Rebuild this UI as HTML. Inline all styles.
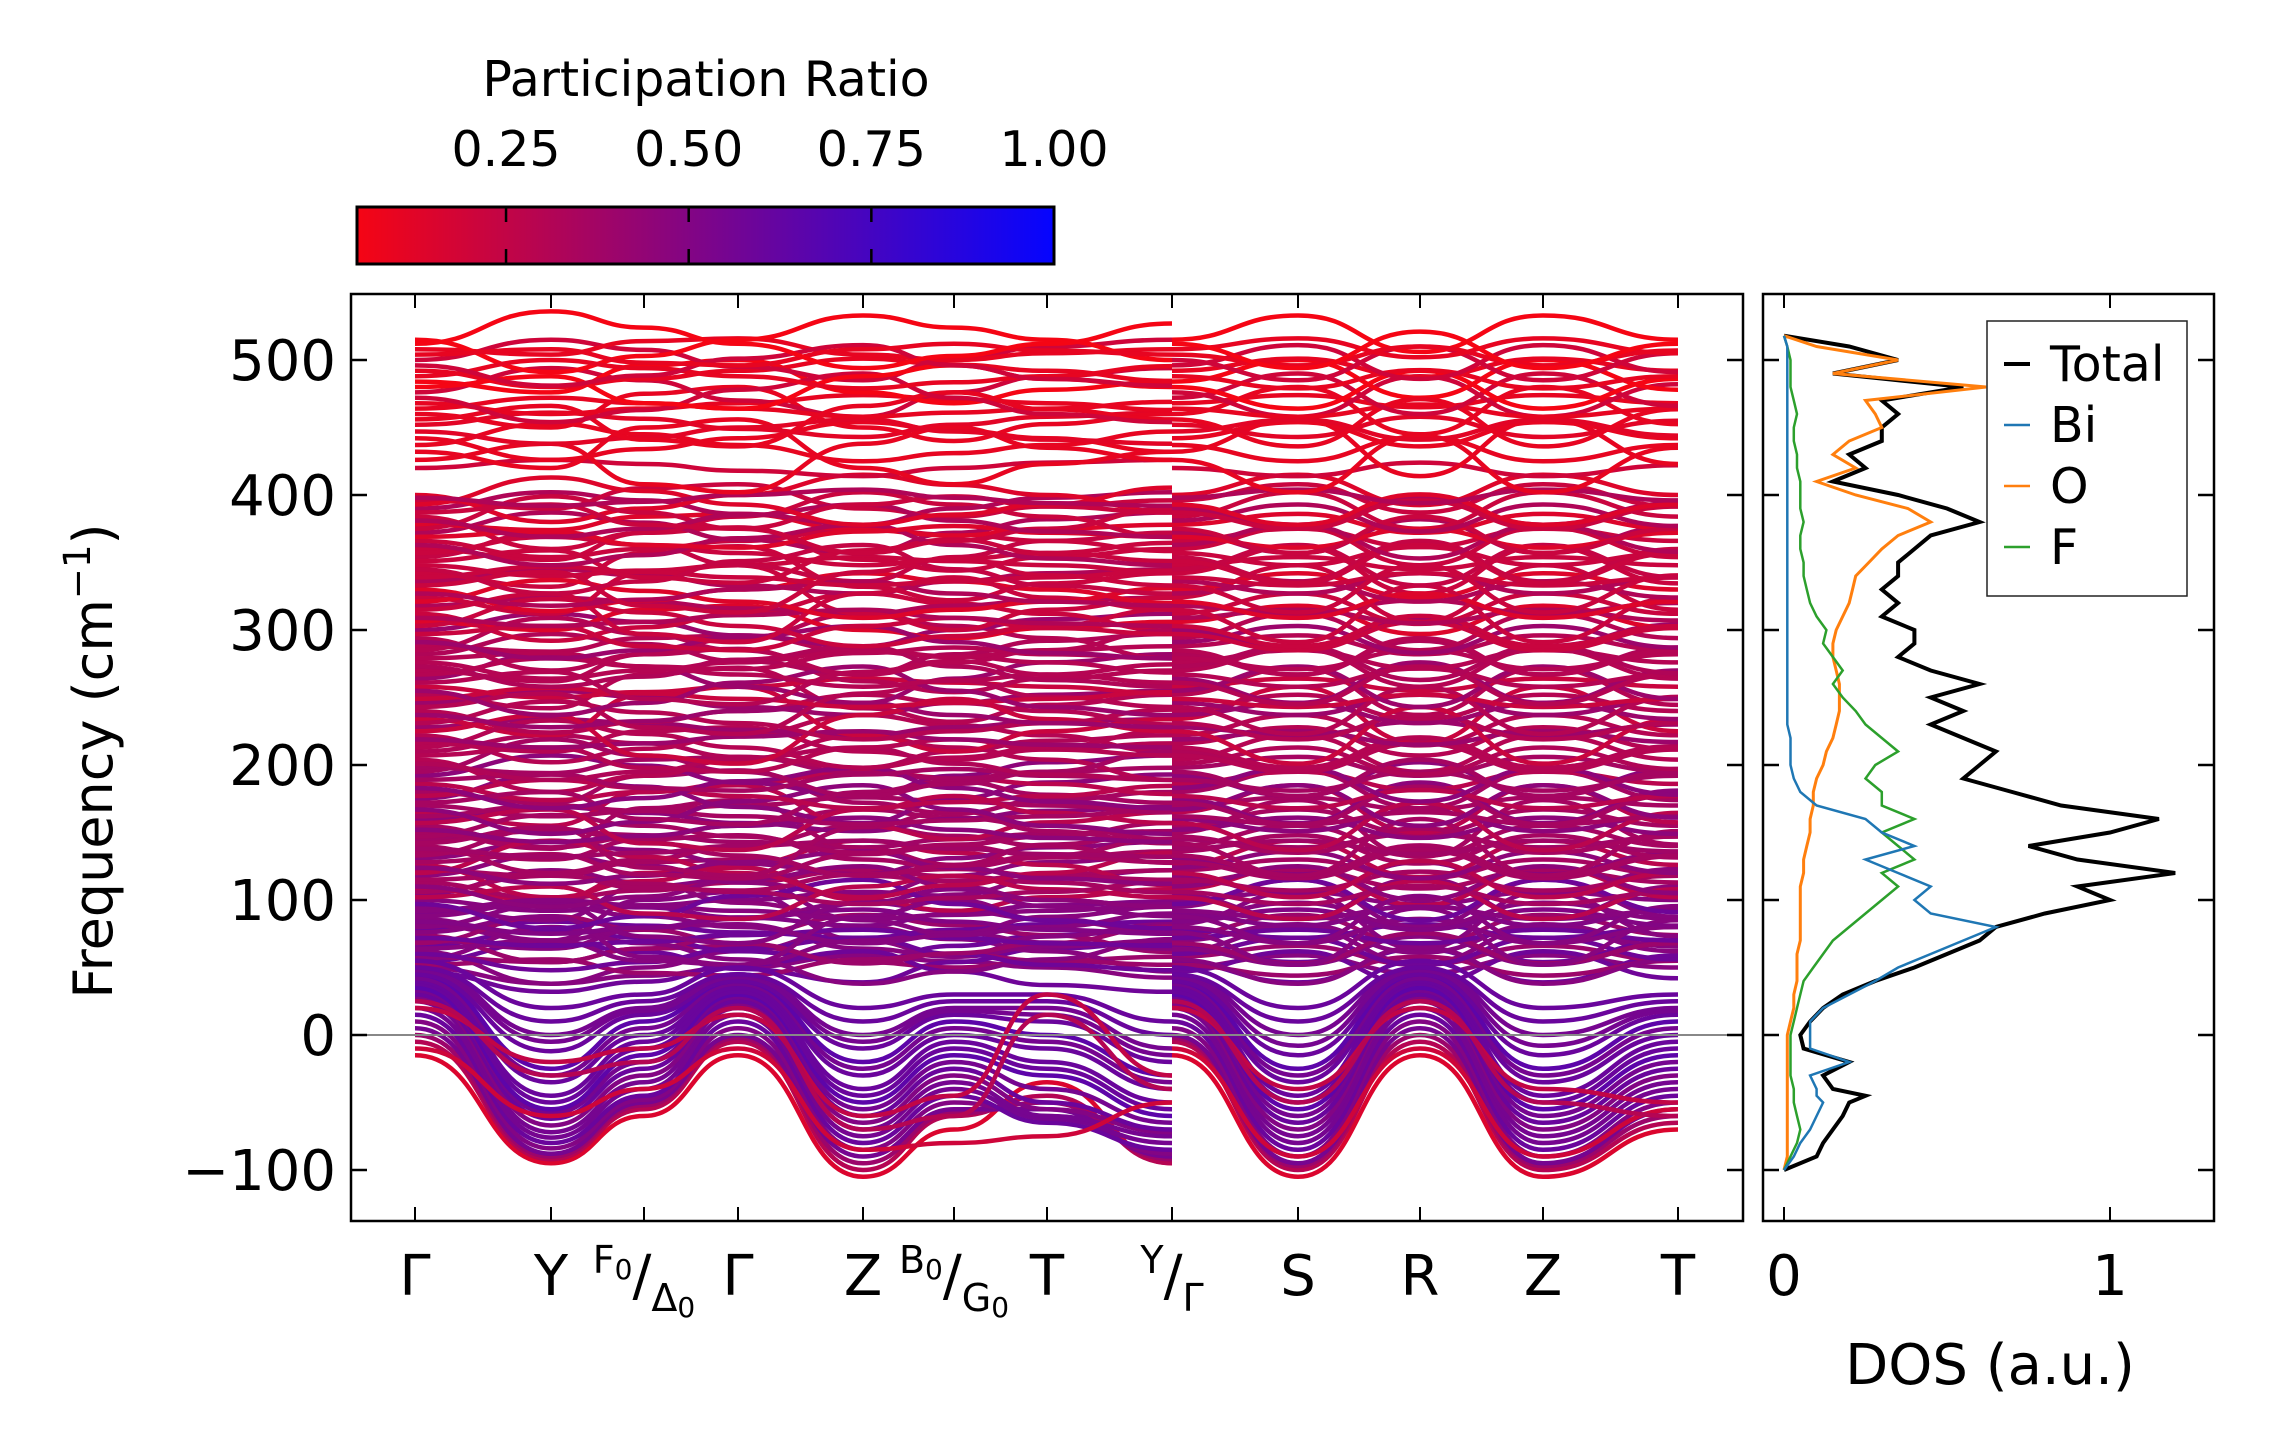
<!DOCTYPE html>
<html><head><meta charset="utf-8"><style>
html,body{margin:0;padding:0;background:#fff;}
svg{display:block;font-family:"DejaVu Sans","Liberation Sans",sans-serif;}
</style></head><body>
<svg id="fig" width="2271" height="1455" viewBox="0 0 2271 1455" xmlns="http://www.w3.org/2000/svg">
<defs>
<linearGradient id="cbgrad" x1="0" x2="1" y1="0" y2="0">
<stop offset="0" stop-color="rgb(245,5,20)"/><stop offset="1" stop-color="rgb(5,5,255)"/>
</linearGradient>
<clipPath id="mainclip"><rect x="351" y="294" width="1392" height="927"/></clipPath>
<clipPath id="dosclip"><rect x="1763" y="294" width="451" height="927"/></clipPath>
</defs>
<g id="colorbar">
<text x="706" y="96" font-size="49" text-anchor="middle">Participation Ratio</text>
<rect x="357" y="207" width="697" height="57" fill="url(#cbgrad)" stroke="#000" stroke-width="3"/>
</g>
<g id="bands" clip-path="url(#mainclip)"></g>
<g id="main-axes"></g>
<g id="dos"></g>
</svg>
<script>
const NS='http://www.w3.org/2000/svg';
const svg=document.getElementById('fig');
// ---- data ----
const kLabels=['Γ','Y','F0/Δ0','Γ','Z','B0/G0','T','Y/Γ','S','R','Z','T'];
const kPosIdx=[0,1,2,3,4,5,6,7,7,8,9,10,11];
const yTicks=[-100,0,100,200,300,400,500];
const cbTicks=[0.25,0.5,0.75,1.0];
const dosTicks=[0,1];
const upperBase=[50,54,58,62,66,70,74,78,82,86,90,95,100,104,108,113,118,122,126,131,136,140,145,150,155,160,165,170,175,180,186,192,198,204,210,216,222,228,234,240,246,252,258,264,270,276,282,288,294,300,306,312,318,324,330,336,342,348,354,360,366,372,378,384,390,396,400,420,432,442,452,460,468,476,484,492,500,508,515];
const upperBase2=[47,52,56,60,64,68,72,76,80,84,88,92,97,102,106,110,115,120,124,128,133,138,142,147,152,157,162,167,172,177,183,189,195,201,207,213,219,225,231,237,243,249,255,261,267,273,279,285,291,297,303,309,315,321,327,333,339,345,351,357,363,369,375,381,387,393,398,426,437,447,456,464,472,480,488,496,504,512];
const wiggleA=[0,-8,-4,0,6,3,0,-5,0,6,-3,6,0];
const wiggleB=[0,6,3,-2,-6,0,4,6,0,-6,4,-6,2];
const wiggleC=[0,-4,6,8,-4,-8,-3,0,0,8,-6,8,-3];
const ampSeq=[1.5,2.5,1,3,2];
const lowBands=[
[-15,-95,-60,-15,-105,-70,-35,-95,-15,-105,-15,-105,-70],
[-5,-92,-55,-5,-100,-60,-45,-95,-5,-100,-5,-100,-65],
[0,-90,-52,-2,-95,-58,-50,-92,-2,-97,0,-97,-60],
[5,-88,-50,0,-90,-55,-55,-90,0,-95,5,-95,-55],
[10,-84,-48,5,-85,-50,-60,-88,5,-90,10,-90,-50],
[15,-80,-45,10,-80,-45,-65,-85,10,-85,15,-85,-45],
[20,-76,-40,15,-75,-40,-62,-80,15,-80,20,-80,-40],
[25,-72,-35,20,-70,-35,-60,-75,20,-75,25,-75,-35],
[28,-67,-30,22,-65,-30,-55,-72,22,-70,28,-70,-30],
[30,-62,-25,25,-60,-25,-50,-70,25,-65,30,-65,-25],
[33,-58,-20,28,-55,-20,-40,-65,28,-60,33,-60,-20],
[35,-55,-15,30,-50,-15,-30,-60,30,-55,35,-55,-15],
[38,-50,-10,32,-45,-10,-25,-55,32,-50,38,-50,-10],
[40,-45,-5,35,-40,-5,-20,-50,35,-45,40,-45,-5],
[40,-35,0,35,-30,0,-10,-40,35,-35,40,-35,0],
[42,-30,5,38,-25,5,-5,-35,38,-30,42,-30,5],
[45,-25,10,40,-20,10,0,-30,40,-25,45,-25,10],
[45,-12,15,40,-10,15,10,-20,40,-15,45,-15,15],
[48,-5,18,43,-5,18,15,-15,43,-8,48,-8,18],
[50,0,20,45,0,20,20,-10,45,0,50,0,20],
[50,10,25,45,10,25,25,0,45,10,50,10,25],
[55,20,30,50,20,30,30,10,50,20,55,20,30],
[-10,-60,-40,-10,-85,-80,-75,-50,-10,-90,-10,-90,-55],
[20,-20,-10,15,-60,-45,30,-30,20,-40,20,-40,-50],
[25,-30,-20,20,-70,-60,15,-40,25,-50,25,-50,-60]];
const lowPR=[0.15,0.3,0.4,0.55,0.5,0.6,0.55,0.55,0.5,0.6,0.55,0.65,0.6,0.6,0.6,0.55,0.65,0.6,0.55,0.55,0.6,0.6,0.2,0.25,0.3];
const dosFreq=[-100,-90,-80,-70,-60,-50,-45,-40,-30,-20,-10,0,10,20,30,40,50,60,70,80,90,100,110,120,130,140,150,160,170,180,190,200,210,220,230,240,250,260,270,280,290,300,310,320,330,340,350,360,370,380,390,400,410,420,430,440,450,460,470,480,490,500,510,518];
const dosTotal=[0,0.1,0.12,0.15,0.18,0.2,0.25,0.15,0.12,0.2,0.06,0.05,0.08,0.12,0.18,0.28,0.4,0.5,0.6,0.65,0.8,1.0,0.9,1.2,0.9,0.75,1.0,1.15,0.85,0.7,0.55,0.6,0.65,0.55,0.45,0.55,0.45,0.6,0.45,0.35,0.4,0.4,0.3,0.35,0.3,0.35,0.35,0.4,0.45,0.6,0.5,0.35,0.15,0.25,0.2,0.3,0.3,0.35,0.3,0.55,0.15,0.35,0.2,0];
const dosBi=[0,0.03,0.05,0.08,0.1,0.12,0.1,0.1,0.08,0.2,0.08,0.08,0.08,0.12,0.2,0.28,0.35,0.45,0.55,0.65,0.45,0.4,0.45,0.35,0.25,0.4,0.3,0.25,0.1,0.05,0.03,0.02,0.02,0.02,0.01,0.01,0.01,0.01,0.01,0.01,0.01,0.01,0.01,0.01,0.01,0.01,0.01,0.01,0.01,0.01,0.01,0.01,0.01,0.01,0.01,0.01,0.01,0.01,0.01,0.01,0.01,0.01,0.01,0];
const dosO=[0,0.01,0.01,0.01,0.01,0.01,0.01,0.01,0.01,0.01,0.01,0.01,0.02,0.03,0.03,0.04,0.04,0.04,0.05,0.05,0.05,0.05,0.05,0.06,0.06,0.07,0.08,0.08,0.09,0.09,0.1,0.12,0.13,0.15,0.16,0.17,0.17,0.17,0.16,0.15,0.15,0.16,0.18,0.2,0.21,0.22,0.26,0.3,0.35,0.45,0.38,0.22,0.1,0.22,0.15,0.2,0.3,0.28,0.25,0.62,0.15,0.35,0.1,0];
const dosF=[0,0.02,0.04,0.05,0.04,0.03,0.03,0.03,0.02,0.02,0.02,0.02,0.03,0.04,0.05,0.06,0.09,0.12,0.15,0.2,0.25,0.3,0.35,0.3,0.4,0.35,0.3,0.4,0.3,0.3,0.25,0.28,0.35,0.3,0.25,0.22,0.18,0.15,0.18,0.15,0.12,0.13,0.1,0.08,0.07,0.06,0.06,0.05,0.05,0.06,0.05,0.05,0.05,0.04,0.04,0.03,0.03,0.04,0.03,0.02,0.02,0.02,0.01,0];
// ---- geometry ----
const kX=[415,551,644,738,863,954,1047,1172,1298,1420,1543,1678];
const AX={l:351,r:1743,t:294,b:1221};
const DX={l:1763,r:2214};
function yS(f){return 360+(500-f)*1.35;}
function xD(d){return 1784+d*326;}
function prColor(p){const t=Math.max(0,Math.min(1,(p-0.046)/(1-0.046)));return 'rgb('+Math.round(245*(1-t)+5*t)+',5,'+Math.round(20*(1-t)+255*t)+')';}
function mk(tag,attrs,parent){const e=document.createElementNS(NS,tag);for(const k in attrs)e.setAttribute(k,attrs[k]);(parent||svg).appendChild(e);return e;}
function bandPath(vals){let d='';for(let i=0;i<vals.length;i++){const x=kX[kPosIdx[i]],y=yS(vals[i]);if(i===0||i===8){d+='M'+x+' '+y;}else{const x0=kX[kPosIdx[i-1]],y0=yS(vals[i-1]),m=(x0+x)/2;d+=' C'+m+' '+y0+' '+m+' '+y+' '+x+' '+y;}}return d;}
const gB=document.getElementById('bands');
const wig=[wiggleA,wiggleB,wiggleC];
function drawUpper(bases,shift,sign){
  bases.forEach((b,i)=>{
    const w=wig[(i+shift)%3],a=ampSeq[(i+shift)%5]*sign;
    const vals=w.map(v=>b+v*a);
    let pr=b>400?0.1:b>300?0.22:b>200?0.3:b>100?0.36:0.48;
    if((i+shift)%3===1)pr+=0.1;
    if((i+shift)%4===2)pr-=0.08;
    const p=mk('path',{d:bandPath(vals),fill:'none',stroke:prColor(pr),'stroke-width':4.5},gB);
    
    
  });
}
drawUpper(upperBase,0,1);
drawUpper(upperBase2,1,-1);
lowBands.forEach((vals,i)=>{
  const p=mk('path',{d:bandPath(vals),fill:'none',stroke:prColor(lowPR[i]),'stroke-width':4.5},gB);
  
  
});
const gA=document.getElementById('main-axes');
const zl=mk('line',{x1:AX.l,x2:AX.r,y1:yS(0),y2:yS(0),stroke:'#888','stroke-width':2},gA);


const fr=mk('rect',{x:AX.l,y:AX.t,width:AX.r-AX.l,height:AX.b-AX.t,fill:'none',stroke:'#000','stroke-width':2.5},gA);


kX.forEach(x=>{mk('line',{x1:x,x2:x,y1:AX.t,y2:AX.t+14,stroke:'#000','stroke-width':2},gA);mk('line',{x1:x,x2:x,y1:AX.b,y2:AX.b-14,stroke:'#000','stroke-width':2},gA);});
yTicks.forEach(t=>{const y=yS(t);
  mk('line',{x1:AX.l,x2:AX.l+16,y1:y,y2:y,stroke:'#000','stroke-width':2.5},gA);
  mk('line',{x1:AX.r,x2:AX.r-16,y1:y,y2:y,stroke:'#000','stroke-width':2.5},gA);
  mk('line',{x1:DX.l,x2:DX.l+16,y1:y,y2:y,stroke:'#000','stroke-width':2.5},gA);
  mk('line',{x1:DX.r,x2:DX.r-16,y1:y,y2:y,stroke:'#000','stroke-width':2.5},gA);
  const tx=mk('text',{x:336,y:y+20,'font-size':56,'text-anchor':'end'},gA);
  tx.textContent=(t<0?'\u2212':'')+Math.abs(t);
  
  
});
const yl=mk('text',{x:0,y:0,'font-size':54,'text-anchor':'middle',transform:'translate(112,761) rotate(-90)'},gA);
yl.innerHTML='Frequency (cm<tspan dy="-22" font-size="37">\u22121</tspan><tspan dy="22">)</tspan>';


kLabels.forEach((lab,i)=>{
  const t=mk('text',{x:kX[i],y:1295,'font-size':56,'text-anchor':'middle'},gA);
  if(lab.includes('/')){const [a,b]=lab.split('/');
    const sup=a.length>1?a[0]+'<tspan font-size="28" dy="6">'+a[1]+'</tspan>':a;
    const sub=b.length>1?b[0]+'<tspan font-size="28" dy="6">'+b[1]+'</tspan>':b;
    t.innerHTML='<tspan font-size="38" dy="-22">'+sup+'</tspan><tspan dy="'+(a.length>1?16:22)+'">/</tspan><tspan font-size="38" dy="16">'+sub+'</tspan>';
  } else t.textContent=lab;
  
  
});
cbTicks.forEach(v=>{const x=357+(v-0.046)/(1-0.046)*697;
  if(v<1){mk('line',{x1:x,x2:x,y1:207,y2:222,stroke:'#000','stroke-width':2.5});mk('line',{x1:x,x2:x,y1:249,y2:264,stroke:'#000','stroke-width':2.5});}
  const t=mk('text',{x:x,y:166,'font-size':49,'text-anchor':'middle'});
  t.textContent=v.toFixed(2);
  
  
});
const gD=document.getElementById('dos');
const gDc=mk('g',{'clip-path':'url(#dosclip)'},gD);
function dosLine(arr,col,w,name){let d='';arr.forEach((v,i)=>{d+=(i?'L':'M')+xD(v).toFixed(1)+' '+yS(dosFreq[i]).toFixed(1);});
  const p=mk('path',{d:d,fill:'none',stroke:col,'stroke-width':w},gDc);
  
  }
dosLine(dosTotal,'#000',4,'dos-total-line');
dosLine(dosO,'#ff7f0e',3,'dos-o-line');
dosLine(dosF,'#2ca02c',2.5,'dos-f-line');
dosLine(dosBi,'#1f77b4',2.5,'dos-bi-line');
const dfr=mk('rect',{x:DX.l,y:AX.t,width:DX.r-DX.l,height:AX.b-AX.t,fill:'none',stroke:'#000','stroke-width':2.5},gD);


dosTicks.forEach(v=>{const x=xD(v);
  mk('line',{x1:x,x2:x,y1:AX.t,y2:AX.t+14,stroke:'#000','stroke-width':2},gD);
  mk('line',{x1:x,x2:x,y1:AX.b,y2:AX.b-14,stroke:'#000','stroke-width':2},gD);
  const t=mk('text',{x:x,y:1295,'font-size':56,'text-anchor':'middle'},gD);
  t.textContent=String(v);
  
  
});
const dl=mk('text',{x:1990,y:1384,'font-size':56,'text-anchor':'middle'},gD);
dl.textContent='DOS (a.u.)';


const lg=mk('g',{},gD);


mk('rect',{x:1987,y:321,width:200,height:275,fill:'#fff',stroke:'#222','stroke-width':1.5},lg);
[['Total','#000'],['Bi','#1f77b4'],['O','#ff7f0e'],['F','#2ca02c']].forEach((e,i)=>{const y=364+i*61;
  mk('line',{x1:2004,x2:2030,y1:y,y2:y,stroke:e[1],'stroke-width':i?2.5:4},lg);
  const t=mk('text',{x:2050,y:y+17,'font-size':49},lg);
  t.textContent=e[0];
  
  
});
</script>
</body></html>
